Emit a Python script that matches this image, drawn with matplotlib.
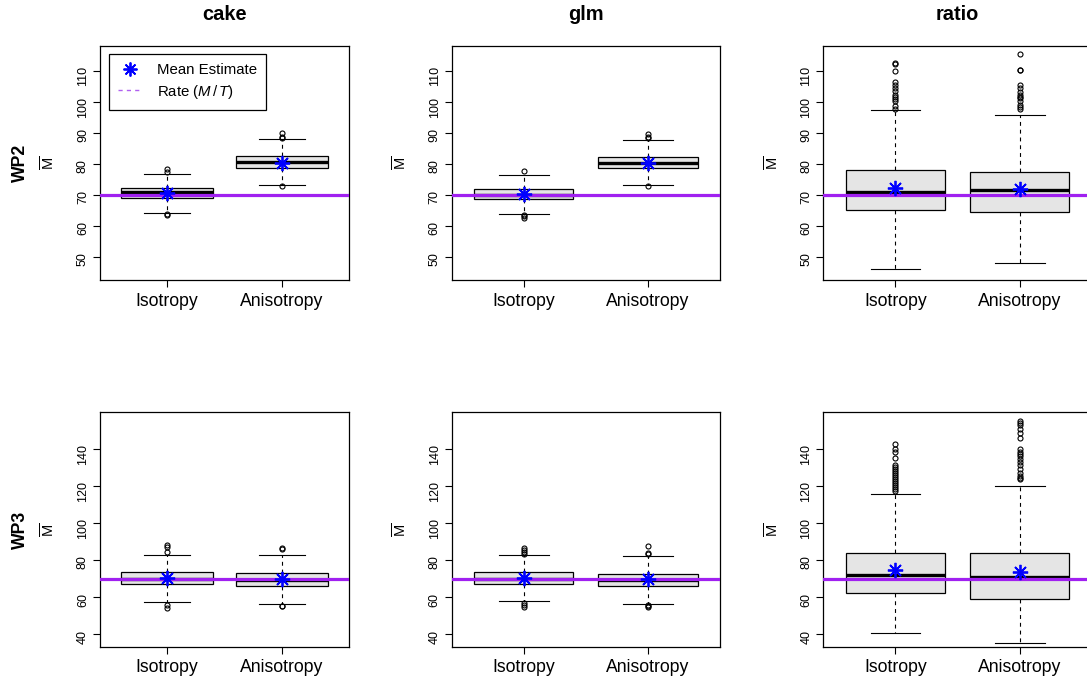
import numpy as np
import matplotlib
matplotlib.use("Agg")
import matplotlib.pyplot as plt
from matplotlib.lines import Line2D

plt.rcParams['font.family'] = ['Liberation Sans', 'DejaVu Sans']
plt.rcParams['mathtext.fontset'] = 'custom'
plt.rcParams['mathtext.rm'] = 'Liberation Sans'
plt.rcParams['mathtext.it'] = 'Liberation Sans:italic'

# names of the panels
estimators = ['cake', 'glm', 'ratio']
scenarios = ['WP2', 'WP3']
groups = ['Isotropy', 'Anisotropy']
true_rate = 70

# box statistics, [estimator][group]
wp2_q1 = [[68.8, 78.7], [68.5, 78.5], [65.0, 64.4]]
wp2_med = [[70.8, 80.5], [69.9, 80.2], [70.9, 71.4]]
wp2_q3 = [[72.2, 82.5], [71.8, 82.3], [77.9, 77.5]]
wp2_lo = [[64.1, 73.1], [63.7, 73.3], [45.9, 47.9]]
wp2_hi = [[76.7, 88.1], [76.5, 87.7], [97.2, 95.7]]
wp2_mean = [[70.5, 80.4], [70.2, 80.3], [72.1, 71.8]]
wp2_fliers = [
    [[63.5, 63.7, 77.4, 78.2], [72.9, 88.3, 88.7, 90.0]],
    [[62.4, 63.1, 63.4, 77.7], [72.7, 88.4, 88.7, 89.6]],
    [[97.8, 98.8, 100.2, 100.9, 101.6, 102.3, 103.4, 104.5, 105.4, 106.5, 109.8, 112.3, 112.6],
     [97.7, 98.3, 99.0, 100.1, 101.1, 101.7, 102.2, 103.3, 104.3, 105.4, 110.1, 110.3, 115.3]],
]

wp3_q1 = [[66.9, 66.0], [66.9, 66.0], [62.4, 58.9]]
wp3_med = [[70.0, 69.4], [70.0, 69.1], [72.1, 71.0]]
wp3_q3 = [[73.4, 72.9], [73.4, 72.5], [83.8, 83.6]]
wp3_lo = [[57.2, 56.3], [57.9, 56.5], [40.7, 35.2]]
wp3_hi = [[82.9, 82.9], [82.9, 82.0], [115.8, 119.9]]
wp3_mean = [[70.2, 69.6], [70.2, 69.6], [74.6, 73.6]]
wp3_fliers = [
    [[54.2, 55.9, 84.3, 87.0, 88.1], [55.0, 55.4, 86.2, 86.7]],
    [[54.7, 55.8, 56.7, 83.3, 84.5, 85.6, 86.7], [54.7, 55.3, 55.8, 83.0, 83.6, 87.4]],
    [[117.1, 118.2, 119.3, 120.4, 121.5, 122.6, 123.7, 124.8, 125.9, 127.0, 128.1, 129.2,
      130.3, 131.4, 135.0, 138.0, 139.8, 142.4],
     [123.9, 124.4, 125.5, 127.1, 129.2, 131.0, 132.6, 134.2, 136.0, 137.0, 138.4, 139.8,
      145.9, 148.3, 150.6, 152.8, 154.0, 155.1]],
]

rows = [
    (wp2_q1, wp2_med, wp2_q3, wp2_lo, wp2_hi, wp2_mean, wp2_fliers),
    (wp3_q1, wp3_med, wp3_q3, wp3_lo, wp3_hi, wp3_mean, wp3_fliers),
]
row_ylim = [(42.5, 118.0), (33.3, 159.6)]
row_ticks = [np.arange(50, 111, 10), np.arange(40, 141, 20)]

# panel placement in pixels (right column runs past the edge like the original)
W, H = 1087, 677
col_left = [100, 451.7, 823.3]
col_right = [349, 720, 1091.8]
row_top = [46, 412.3]
row_bottom = [280, 646.7]

fig = plt.figure(figsize=(W / 100, H / 100), dpi=100)

for r in range(2):
    q1, med, q3, lo, hi, mean, fliers = rows[r]
    for c in range(3):
        ax = fig.add_axes([col_left[c] / W, 1 - row_bottom[r] / H,
                           (col_right[c] - col_left[c]) / W,
                           (row_bottom[r] - row_top[r]) / H])
        stats = []
        for g in range(2):
            stats.append(dict(q1=q1[c][g], med=med[c][g], q3=q3[c][g],
                              whislo=lo[c][g], whishi=hi[c][g],
                              fliers=fliers[c][g], label=groups[g]))
        ax.bxp(stats, positions=[1, 2], widths=0.8, capwidths=0.4,
               patch_artist=True,
               boxprops=dict(facecolor='#E5E5E5', edgecolor='black', lw=0.9),
               medianprops=dict(color='black', lw=2.4, solid_capstyle='butt'),
               whiskerprops=dict(color='black', lw=0.8, ls=(0, (3.5, 3.5))),
               capprops=dict(color='black', lw=0.8),
               flierprops=dict(marker='o', mfc='none', mec='black', ms=3.6, mew=0.8))
        ax.axhline(true_rate, color='#A020F0', lw=2.3, zorder=4)
        ax.plot([1, 2], mean[c], ls='none', marker=(8, 2, 0), color='blue',
                ms=11, mew=1.3, zorder=5)

        ax.set_xlim(0.42, 2.58)
        ax.set_ylim(*row_ylim[r])
        ax.set_yticks(row_ticks[r])
        ax.set_xticks([1, 2])
        ax.set_xticklabels(groups, fontsize=12.7)
        ax.tick_params(axis='y', labelrotation=90, labelsize=9, length=5, width=0.8, pad=3)
        ax.tick_params(axis='x', length=5, width=0.8, pad=4)
        for sp in ax.spines.values():
            sp.set_linewidth(0.9)

        # y label placed by hand
        ax_h = row_bottom[r] - row_top[r]
        ax_w = col_right[c] - col_left[c]
        ax.text(-51 / ax_w, 0.5, r'$\overline{\mathrm{M}}$', transform=ax.transAxes,
                rotation=90, ha='center', va='center', fontsize=10.5)

        if r == 0:
            ax.set_title(estimators[c], fontsize=14.4, fontweight='bold', pad=19)
        if c == 0:
            fig.text(20 / W, 1 - (row_top[r] + row_bottom[r]) / 2 / H, scenarios[r],
                     rotation=90, ha='center', va='center', fontsize=12.7, fontweight='bold')

        if r == 0 and c == 0:
            handles = [
                Line2D([], [], ls='none', marker=(8, 2, 0), color='blue', ms=10, mew=1.3),
                Line2D([], [], color='#B060F0', lw=1.0, ls=(0, (3, 3))),
            ]
            leg = ax.legend(handles, ['Mean Estimate', r'Rate ($M\,/\,T$)'],
                            loc='upper left', bbox_to_anchor=(9.3 / ax_w, 1 - 8.3 / ax_h),
                            borderaxespad=0, fontsize=10.8, frameon=True, fancybox=False,
                            edgecolor='black', framealpha=1, handlelength=1.6,
                            handletextpad=0.95, labelspacing=0.35, borderpad=0.6)
            leg.get_frame().set_linewidth(0.9)

fig.savefig('out.png', dpi=100)
